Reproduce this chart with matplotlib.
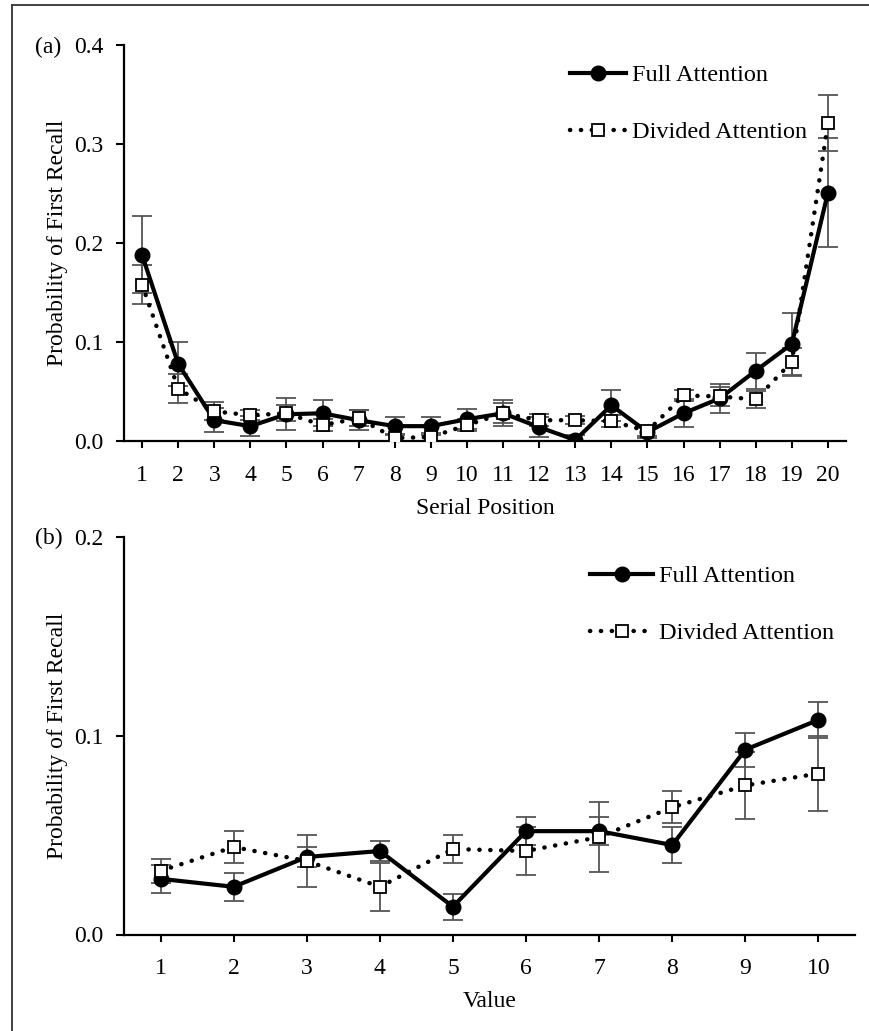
import matplotlib
matplotlib.use("Agg")
import matplotlib.pyplot as plt
from matplotlib.lines import Line2D

plt.rcParams['font.family'] = ['Liberation Serif', 'DejaVu Serif']

# ---- data: panel (a) ----
serial_pos = list(range(1, 21))
full_a = [0.188, 0.078, 0.021, 0.015, 0.027, 0.028, 0.021, 0.015, 0.015, 0.022,
          0.028, 0.014, 0.001, 0.036, 0.009, 0.028, 0.043, 0.071, 0.098, 0.251]
full_a_err = [0.039, 0.022, 0.012, 0.010, 0.016, 0.013, 0.010, 0.009, 0.009, 0.010,
              0.013, 0.010, 0.005, 0.016, 0.006, 0.014, 0.015, 0.018, 0.031, 0.055]
div_a = [0.158, 0.053, 0.030, 0.026, 0.028, 0.016, 0.023, 0.003, 0.004, 0.016,
         0.028, 0.021, 0.021, 0.020, 0.010, 0.046, 0.045, 0.042, 0.080, 0.321]
div_a_err = [0.020, 0.015, 0.009, 0.005, 0.008, 0.006, 0.008, 0.004, 0.004, 0.006,
             0.010, 0.006, 0.004, 0.006, 0.005, 0.006, 0.010, 0.009, 0.014, 0.028]

# ---- data: panel (b) ----
values = list(range(1, 11))
full_b = [0.028, 0.024, 0.039, 0.042, 0.014, 0.052, 0.052, 0.045, 0.093, 0.108]
full_b_err = [0.007, 0.007, 0.005, 0.005, 0.0065, 0.007, 0.007, 0.009, 0.0085, 0.009]
div_b = [0.032, 0.044, 0.037, 0.024, 0.043, 0.042, 0.049, 0.064, 0.075, 0.081]
div_b_err = [0.006, 0.008, 0.013, 0.012, 0.007, 0.012, 0.0175, 0.008, 0.017, 0.019]

yticks_a = [0.0, 0.1, 0.2, 0.3, 0.4]
yticks_b = [0.0, 0.1, 0.2]
labels = ["Full Attention", "Divided Attention"]

W, H = 869, 1031
fig = plt.figure(figsize=(W / 100, H / 100), dpi=100)

ax_a = fig.add_axes([124 / W, 1 - 441 / H, (846 - 124) / W, (441 - 45) / H])
ax_b = fig.add_axes([124 / W, 1 - 934.5 / H, (855 - 124) / W, (934.5 - 537) / H])

FS = 17
LFS = 17.5
ecol = '#555555'


def draw(ax, x, f, fe, d, de):
    ax.errorbar(x, f, yerr=fe, fmt='none', ecolor=ecol, elinewidth=1.3,
                capsize=7, capthick=1.3, zorder=2)
    ax.errorbar(x, d, yerr=de, fmt='none', ecolor=ecol, elinewidth=1.3,
                capsize=7, capthick=1.3, zorder=2)
    l1, = ax.plot(x, f, color='black', lw=3, marker='o', markersize=10.5,
                  markerfacecolor='black', markeredgecolor='black', zorder=3,
                  label=labels[0])
    l2, = ax.plot(x, d, color='black', lw=3.2, linestyle=(0, (0.05, 2.4)),
                  dash_capstyle='round', marker='s', markersize=9,
                  markerfacecolor='white', markeredgecolor='black',
                  markeredgewidth=1.3, zorder=4, label=labels[1])
    for s in ['top', 'right']:
        ax.spines[s].set_visible(False)
    for s in ['left', 'bottom']:
        ax.spines[s].set_linewidth(1.6)
    ax.tick_params(axis='both', direction='out', width=1.5, labelsize=FS)
    ax.tick_params(axis='y', length=6, pad=9)
    ax.tick_params(axis='x', length=5, pad=12)
    return l1, l2


draw(ax_a, serial_pos, full_a, full_a_err, div_a, div_a_err)
ax_a.set_xlim(0.5, 20.5)
ax_a.set_ylim(0, 0.4)
ax_a.set_xticks(serial_pos)
ax_a.set_yticks(yticks_a)
ax_a.set_yticklabels([f"{v:.1f}" for v in yticks_a])
ax_a.set_xlabel("Serial Position", fontsize=FS)
ax_a.set_ylabel("Probability of First Recall", fontsize=FS)
ax_a.yaxis.set_label_coords(-0.077, 0.5)
ax_a.xaxis.set_label_coords(0.5, -0.143)

draw(ax_b, values, full_b, full_b_err, div_b, div_b_err)
ax_b.set_xlim(0.5, 10.5)
ax_b.set_ylim(0, 0.2)
ax_b.set_xticks(values)
ax_b.set_yticks(yticks_b)
ax_b.set_yticklabels([f"{v:.1f}" for v in yticks_b])
ax_b.set_xlabel("Value", fontsize=FS)
ax_b.set_ylabel("Probability of First Recall", fontsize=FS)
ax_b.yaxis.set_label_coords(-0.076, 0.5)
ax_b.xaxis.set_label_coords(0.5, -0.142)

ax_a.legend(loc='upper left', bbox_to_anchor=(570 / W, 1 - 64 / H),
            bbox_transform=fig.transFigure, frameon=False, fontsize=LFS,
            handlelength=2.3, handletextpad=0.25, labelspacing=1.45,
            borderpad=0, borderaxespad=0)
ax_b.legend(loc='upper left', bbox_to_anchor=(590 / W, 1 - 565 / H),
            bbox_transform=fig.transFigure, frameon=False, fontsize=LFS,
            handlelength=2.6, handletextpad=0.25, labelspacing=1.45,
            borderpad=0, borderaxespad=0)

fig.text(35 / W, 1 - 47 / H, "(a)", fontsize=FS, ha='left', va='center')
fig.text(35 / W, 1 - 538 / H, "(b)", fontsize=FS, ha='left', va='center')

# image border (top and left)
fig.add_artist(Line2D([12 / W, 1], [1 - 5 / H, 1 - 5 / H], transform=fig.transFigure,
                      color='#333333', lw=1.3))
fig.add_artist(Line2D([12 / W, 12 / W], [0, 1 - 5 / H], transform=fig.transFigure,
                      color='#333333', lw=1.3))

fig.savefig("out.png", dpi=100)
